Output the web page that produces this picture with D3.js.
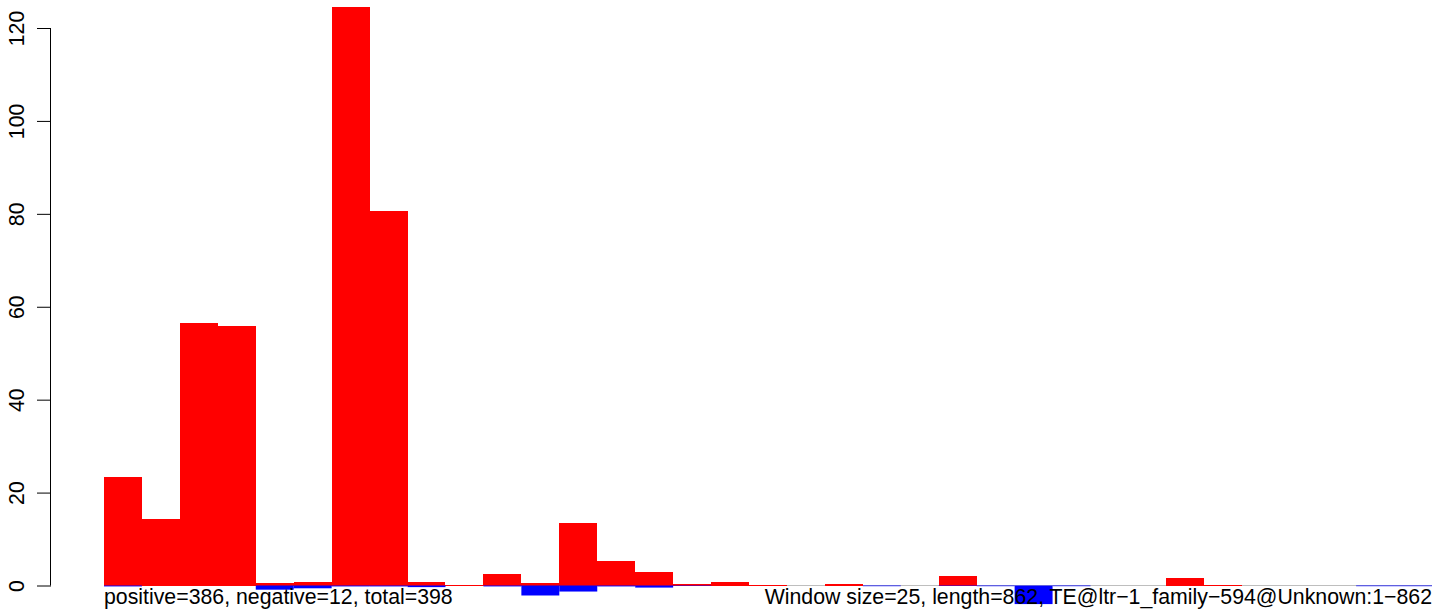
<!DOCTYPE html>
<html><head><meta charset="utf-8">
<script src="https://cdn.jsdelivr.net/npm/d3@7"></script>
<style>body{margin:0;background:#fff}svg{display:block}text{font-family:"Liberation Sans",Arial,Helvetica,sans-serif}</style>
</head><body>
<svg id="c" width="1444" height="613"></svg>
<script>
const bins = d3.range(1, 36);
const positive = [23.3, 14.3, 56.4, 55.8, 0.5, 0.85, 124.5, 80.6, 0.85, 0.2, 2.5, 0.6, 13.5, 5.3, 2.9, 0.4, 0.65, 0.2, 0, 0.4, 0, 0, 2.15, 0, 0, 0, 0, 0, 1.6, 0.2, 0, 0, 0, 0, 0];
const negative = [-0.2, 0, 0, 0, -0.9, -0.6, -0.2, -0.2, -0.35, 0, -0.2, -2.15, -1.3, -0.2, -0.45, -0.1, 0, 0, 0, 0, -0.15, 0, -0.1, -0.15, -4.0, -0.15, 0, 0, 0, 0, 0, 0, 0, -0.15, -0.15];
const yTicks = [0, 20, 40, 60, 80, 100, 120];
const leftLabel = "positive=386, negative=12, total=398";
const rightLabel = "Window size=25, length=862, TE@ltr\u22121_family\u2212594@Unknown:1\u2212862";

const svg = d3.select("#c");
const x = d3.scaleBand().domain(bins).range([104, 1432]).padding(0);
const y = d3.scaleLinear().domain([0, 120]).range([585.5, 28]);

svg.append("line").attr("x1", 104).attr("x2", 1432).attr("y1", y(0)).attr("y2", y(0))
  .attr("stroke", "#bebebe").attr("stroke-width", 1);
svg.append("g").attr("shape-rendering", "crispEdges").selectAll("rect").data(positive).join("rect")
  .attr("x", (d, i) => x(bins[i])).attr("width", x.bandwidth())
  .attr("y", d => y(d)).attr("height", d => y(0) - y(d))
  .attr("fill", "#ff0000");
svg.append("g").selectAll("rect").data(negative).join("rect")
  .attr("x", (d, i) => x(bins[i])).attr("width", x.bandwidth())
  .attr("y", y(0)).attr("height", d => y(d) - y(0))
  .attr("fill", "#0000ff");

const ax = svg.append("g").attr("transform", "translate(51,0)")
  .call(d3.axisLeft(y).tickValues(yTicks).tickSize(14).tickPadding(0).tickFormat(d3.format("d")));
ax.select(".domain").attr("stroke", "#000").attr("d", `M-0.5,${y(0)}V${y(120)}`);
ax.selectAll(".tick line").attr("stroke", "#000");
ax.selectAll(".tick text").attr("x", null).attr("dy", null)
  .attr("transform", "translate(-27,0) rotate(-90)")
  .attr("text-anchor", "middle").attr("font-size", 21.3).attr("fill", "#000");

svg.append("text").attr("x", 104).attr("y", 604).attr("font-size", 21.3).text(leftLabel);
svg.append("text").attr("x", 1432).attr("y", 604).attr("text-anchor", "end").attr("font-size", 21.3).text(rightLabel);
</script>
</body></html>
